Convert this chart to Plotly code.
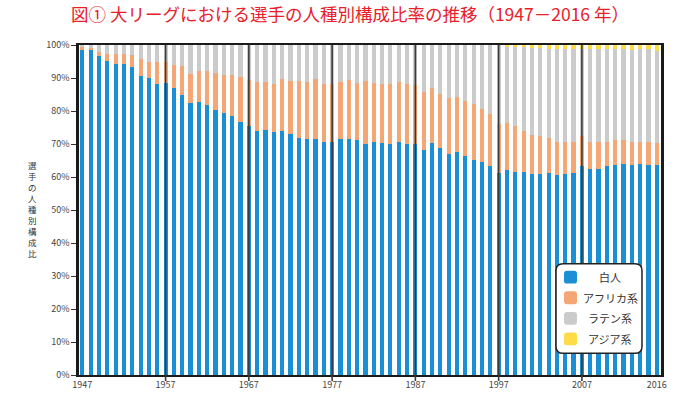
import plotly.graph_objects as go

years = list(range(1947, 2017))

white = [98.5, 98.5, 96.8, 95.3, 94.3, 94.1, 93.3, 90.7, 89.9, 88.1,
         88.4, 86.9, 84.8, 82.4, 82.6, 81.7, 80.2, 79.4, 78.4, 76.8,
         75.5, 74.0, 74.2, 73.7, 74.0, 72.9, 71.7, 71.4, 71.4, 70.6,
         70.7, 71.6, 71.4, 71.1, 70.1, 70.6, 70.2, 69.9, 70.5, 70.0,
         70.0, 68.2, 70.4, 68.8, 67.1, 67.7, 66.5, 65.2, 64.6, 63.3,
         61.2, 62.0, 61.6, 61.4, 60.9, 60.9, 61.1, 60.6, 60.9, 61.2,
         63.3, 62.4, 62.4, 63.2, 63.7, 64.0, 63.7, 64.0, 63.6, 63.7]

african = [0.8, 0.7, 1.1, 1.9, 3.0, 3.2, 3.6, 5.1, 5.0, 6.7,
           6.3, 7.1, 8.7, 8.7, 9.6, 10.3, 11.4, 11.5, 12.4, 13.5,
           13.8, 14.7, 14.6, 14.4, 15.6, 16.2, 17.4, 17.3, 18.3, 17.6,
           17.4, 17.1, 17.9, 17.3, 18.9, 17.8, 18.0, 18.2, 18.2, 18.1,
           17.9, 17.5, 16.5, 16.4, 16.8, 16.6, 16.6, 16.8, 16.0, 15.9,
           15.0, 14.4, 13.9, 12.6, 11.9, 11.4, 10.8, 10.1, 9.8, 9.5,
           9.0, 8.1, 8.1, 7.3, 7.5, 7.2, 6.8, 6.5, 6.9, 6.6]

latin = [0.7, 0.8, 2.1, 2.8, 2.7, 2.7, 3.1, 4.2, 5.1, 5.2,
         5.3, 6.0, 6.5, 8.9, 7.8, 8.0, 8.4, 9.1, 9.2, 9.7,
         10.7, 11.3, 11.2, 11.9, 10.4, 10.9, 10.9, 11.3, 10.3, 11.8,
         11.9, 11.3, 10.7, 11.6, 11.0, 11.6, 11.8, 11.9, 11.3, 11.9,
         12.1, 14.3, 13.1, 14.8, 16.1, 15.7, 16.9, 18.0, 19.4, 20.8,
         23.8, 23.1, 23.8, 25.3, 26.3, 26.7, 27.0, 28.1, 28.1, 28.1,
         26.5, 28.3, 28.3, 28.3, 27.6, 27.6, 28.1, 28.2, 28.2, 28.0]

asian = [0.0] * 51 + [0.5, 0.7, 0.7, 0.9, 1.0, 1.1, 1.2, 1.2, 1.2,
                      1.2, 1.2, 1.2, 1.2, 1.2, 1.2, 1.4, 1.3, 1.3, 1.7]

names = ["白人", "アフリカ系", "ラテン系", "アジア系"]
colors = ["#1a8fd5", "#f4a674", "#cbcbcb", "#fddc48"]
series = [white, african, latin, asian]

decades = [1957, 1967, 1977, 1987, 1997, 2007]
xticks = [1947, 1957, 1967, 1977, 1987, 1997, 2007, 2016]
yticks = [0, 10, 20, 30, 40, 50, 60, 70, 80, 90, 100]

font = "Noto Sans CJK JP"

fig = go.Figure()
for name, color, vals in zip(names, colors, series):
    fig.add_trace(go.Bar(x=years, y=vals, name=name,
                         marker=dict(color=color, line=dict(width=0)),
                         showlegend=False))

# plot area in pixels: x 79..661, y 45..380
W, H = 582.0, 335.0
L, T = 79.0, 45.0


def px(xp):
    return (xp - L) / W


def py(yp):
    return (T + H - yp) / H


def rounded(x0, y0, x1, y1, r):
    # x/y given in pixels, returned as paper-coord svg path
    rx, ry = r / W, r / H
    a, b, c, d = px(x0), py(y1), px(x1), py(y0)
    return (f"M {a+rx},{b} L {c-rx},{b} Q {c},{b} {c},{b+ry} "
            f"L {c},{d-ry} Q {c},{d} {c-rx},{d} L {a+rx},{d} "
            f"Q {a},{d} {a},{d-ry} L {a},{b+ry} Q {a},{b} {a+rx},{b} Z")


shapes = []
for yr in decades:
    shapes.append(dict(type="line", xref="x", yref="paper", x0=yr, x1=yr,
                       y0=-0.018, y1=1, layer="above",
                       line=dict(color="#3a3a3a", width=1.6)))

# legend box
shapes.append(dict(type="path", xref="paper", yref="paper", layer="above",
                   path=rounded(556, 267, 642, 358, 7),
                   fillcolor="white", line=dict(color="#222222", width=1.5)))

annotations = []
for i, (name, color) in enumerate(zip(names, colors)):
    cy = 280.7 + i * 20.9
    shapes.append(dict(type="path", xref="paper", yref="paper", layer="above",
                       path=rounded(564, cy - 6.5, 577, cy + 6.5, 3),
                       fillcolor=color, line=dict(width=0)))
    annotations.append(dict(xref="paper", yref="paper", x=px(610), y=py(cy),
                            text=name, showarrow=False, xanchor="center",
                            yanchor="middle",
                            font=dict(family=font, size=11, color="#333333")))

# vertical axis title, one character per line
annotations.append(dict(xref="paper", yref="paper", x=px(32), y=py(211),
                        text="<br>".join("選手の人種別構成比"), showarrow=False,
                        xanchor="center", yanchor="middle",
                        font=dict(family=font, size=8.5, color="#333333")))

fig.update_layout(
    width=700, height=403,
    margin=dict(l=79, r=39, t=45, b=23),
    paper_bgcolor="white", plot_bgcolor="white",
    barmode="stack", bargap=0.5,
    font=dict(family=font, size=9, color="#444444"),
    title=dict(text="図① 大リーグにおける選手の人種別構成比率の推移（1947－2016 年）",
               x=0.5, xref="container", xanchor="center",
               y=1 - 15 / 403, yref="container", yanchor="middle",
               font=dict(family=font, size=17.5, color="#e8202a")),
    shapes=shapes,
    annotations=annotations,
)
fig.update_xaxes(range=[1946.6, 2016.5], tickvals=xticks,
                 ticktext=[str(v) for v in xticks], ticks="",
                 showgrid=False, zeroline=False,
                 showline=True, mirror=True, linecolor="#1a1a1a", linewidth=2,
                 tickfont=dict(size=9, color="#444444"))
fig.update_yaxes(range=[0, 100], tickvals=yticks,
                 ticktext=[f"{v}%" for v in yticks],
                 ticks="outside", ticklen=5, tickcolor="#333333",
                 showgrid=False, zeroline=False,
                 showline=True, mirror=True, linecolor="#1a1a1a", linewidth=2.5,
                 tickfont=dict(size=9, color="#444444"))

# the page body has a default 8px margin; drop it so the figure sits at 0,0
fig.write_html("out.html", config={"displayModeBar": False},
               post_script="document.body.style.margin='0';")
